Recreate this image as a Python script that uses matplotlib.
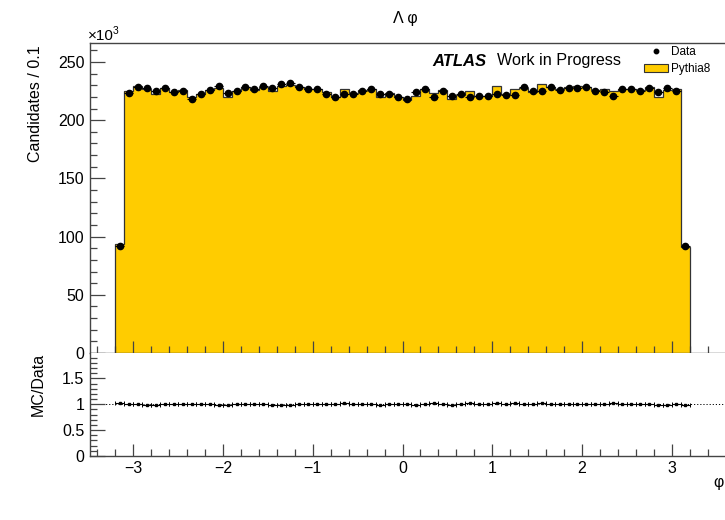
import numpy as np
import matplotlib
matplotlib.use("Agg")
from matplotlib import pyplot as plt
from matplotlib.ticker import MultipleLocator, FixedLocator, FuncFormatter
from matplotlib.lines import Line2D
from matplotlib.patches import Patch

plt.rcParams['font.family'] = ['Liberation Sans', 'DejaVu Sans']

# Lambda phi, 64 bins of 0.1 from -3.2 to 3.2 (candidates in units of 10^3)
edges = np.linspace(-3.2, 3.2, 65)

data_k = [92.2, 223.0, 228.2, 228.0, 225.4, 228.0, 224.2, 225.4,
          217.9, 222.5, 226.0, 229.6, 223.6, 225.0, 228.8, 226.8,
          229.6, 228.0, 231.0, 231.7, 228.8, 226.4, 227.2, 222.2,
          219.6, 222.5, 222.5, 225.4, 226.8, 222.5, 222.5, 219.6,
          218.0, 224.0, 226.8, 219.6, 225.4, 220.9, 222.5, 219.6,
          220.9, 220.9, 222.5, 221.6, 221.6, 228.2, 225.4, 225.4,
          228.2, 226.0, 227.6, 227.4, 228.8, 225.4, 224.5, 220.9,
          226.8, 226.4, 225.4, 227.6, 224.0, 228.0, 225.0, 92.2]

pythia_k = [93.6, 225.3, 229.0, 226.4, 222.5, 227.4, 224.0, 226.0,
            220.2, 222.5, 225.8, 227.4, 220.3, 225.0, 228.8, 226.0,
            228.8, 225.4, 229.4, 229.8, 228.8, 226.6, 227.2, 224.2,
            219.6, 226.4, 223.0, 226.0, 227.2, 220.2, 223.0, 220.2,
            217.0, 221.0, 227.2, 223.3, 226.0, 218.0, 221.6, 224.7,
            220.9, 220.9, 229.6, 222.5, 226.8, 227.4, 224.5, 231.0,
            228.8, 226.4, 228.8, 229.4, 228.8, 226.0, 227.2, 225.0,
            227.2, 227.2, 226.0, 228.4, 220.0, 225.8, 226.8, 91.3]

data = np.array(data_k)
mc = np.array(pythia_k)
centers = 0.5 * (edges[1:] + edges[:-1])
halfw = 0.5 * np.diff(edges)
data_err = np.sqrt(data * 1000.0) / 1000.0
ratio = mc / data
ratio_err = ratio * np.sqrt(1.0 / (data * 1000.0) + 1.0 / (mc * 1000.0))

yellow = '#ffcc00'
frame = '#444444'
fs = 11.5

fig = plt.figure(figsize=(7.25, 5.2), dpi=100)
ax = fig.add_axes([90 / 725, 167 / 520, 635 / 725, 310 / 520])
rax = fig.add_axes([90 / 725, 64 / 520, 635 / 725, 103 / 520], sharex=ax)

# MC histogram + data points
ax.stairs(mc, edges, fill=True, color=yellow, zorder=1)
ax.stairs(mc, edges, color='#333333', linewidth=0.9, zorder=2)
ax.errorbar(centers, data, xerr=halfw, yerr=data_err, fmt='o', color='black',
            markersize=4.5, elinewidth=0.8, capsize=0, zorder=3)

ax.set_xlim(-3.483, 3.594)
ax.set_ylim(0, 266.3)
ax.yaxis.set_major_locator(MultipleLocator(50))
ax.yaxis.set_minor_locator(MultipleLocator(10))
ax.xaxis.set_major_locator(MultipleLocator(1))
ax.xaxis.set_minor_locator(MultipleLocator(0.2))
ax.tick_params(axis='x', labelbottom=False)

# ratio panel
rax.axhline(1.0, color='black', linestyle=(0, (1.2, 2)), linewidth=0.7, zorder=1)
rax.errorbar(centers, ratio, xerr=halfw, fmt='none', ecolor='black',
             elinewidth=0.8, capsize=1.6, capthick=0.7, zorder=2)
rax.errorbar(centers, ratio, yerr=ratio_err, fmt='s', color='black',
             markersize=1.8, elinewidth=0.8, capsize=0, zorder=3)
rax.set_ylim(0, 1.99)
rax.yaxis.set_major_locator(FixedLocator([0, 0.5, 1, 1.5]))
rax.yaxis.set_minor_locator(MultipleLocator(0.1))
rax.yaxis.set_major_formatter(FuncFormatter(lambda v, p: '%g' % v))

for a in (ax, rax):
    for side in ('left', 'bottom', 'top'):
        a.spines[side].set_color(frame)
        a.spines[side].set_linewidth(1.0)
    a.spines['right'].set_visible(False)
    a.tick_params(which='both', direction='in', colors=frame, labelcolor='black',
                  labelsize=fs, width=0.9)
    a.tick_params(axis='y', which='major', length=10.5, pad=4)
    a.tick_params(axis='y', which='minor', length=5)
    a.tick_params(axis='x', which='major', length=8.5, pad=3.5)
    a.tick_params(axis='x', which='minor', length=5)
rax.spines['top'].set_visible(False)

fig.text(35 / 725, 1 - 45 / 520, 'Candidates / 0.1', rotation=90,
         ha='center', va='top', fontsize=fs)
fig.text(38 / 725, 1 - 353 / 520, 'MC/Data', rotation=90,
         ha='center', va='top', fontsize=fs)
fig.text(88 / 725, 1 - 43 / 520, '\u00d710', ha='left', va='bottom', fontsize=11)
fig.text(113 / 725, 1 - 36 / 520, '3', ha='left', va='bottom', fontsize=7.5)
fig.text(405 / 725, 1 - 19 / 520, '\u039b \u03c6', ha='center', va='center',
         fontsize=11.5)
fig.text(724 / 725, 1 - 483 / 520, '\u03c6', ha='right', va='center', fontsize=fs)

fig.text(432 / 725, 1 - 61 / 520, 'ATLAS', ha='left', va='center',
         fontsize=12, fontweight='bold', fontstyle='italic')
fig.text(497 / 725, 1 - 61 / 520, 'Work in Progress', ha='left', va='center',
         fontsize=11.6)

handles = [Line2D([], [], marker='o', color='black', linestyle='none', markersize=3.2),
           Patch(facecolor=yellow, edgecolor='#333333', linewidth=0.8)]
fig.legend(handles, ['Data', 'Pythia8'], loc='upper left',
           bbox_to_anchor=(644 / 725, 1 - 46 / 520), frameon=False, fontsize=8.5,
           handlelength=2.0, handleheight=0.7, handletextpad=0.3,
           labelspacing=0.45, borderpad=0.0, borderaxespad=0)

fig.savefig('out.png', dpi=100)
